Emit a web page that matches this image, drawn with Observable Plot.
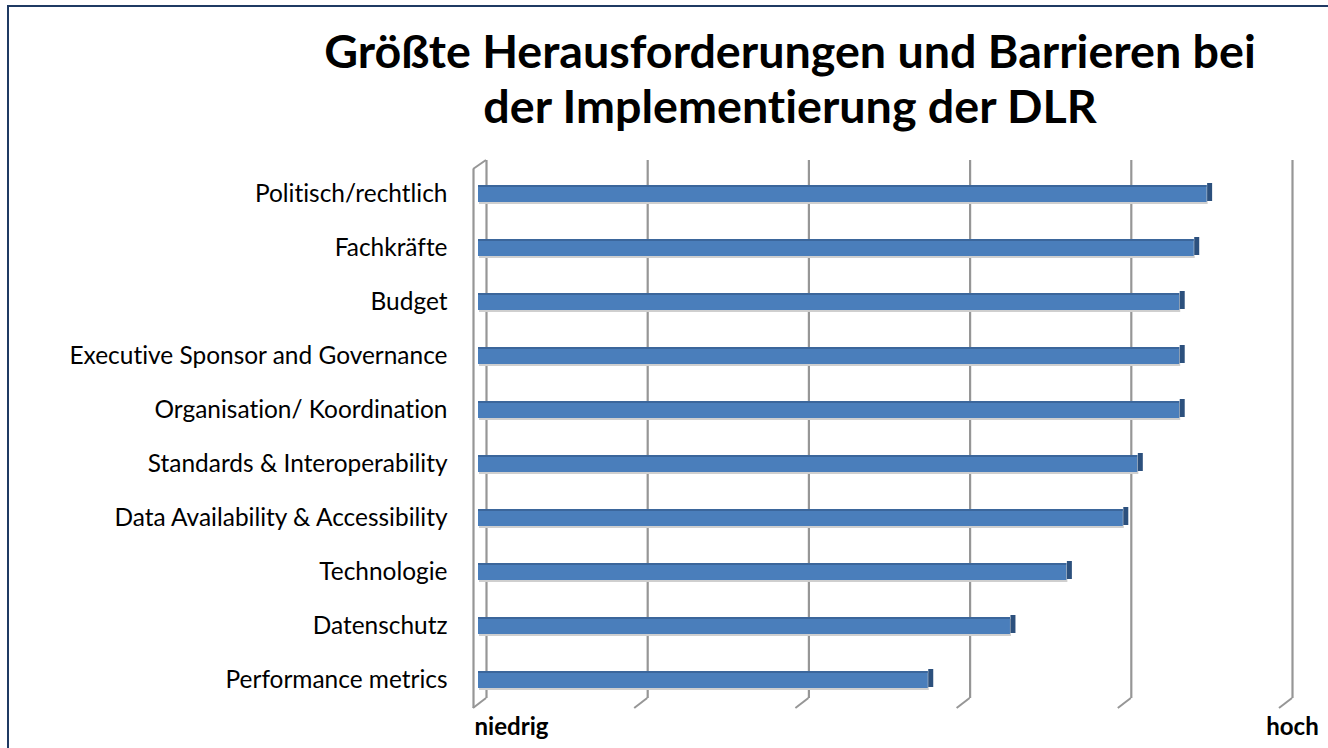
<!DOCTYPE html>
<html>
<head>
<meta charset="utf-8">
<script src="https://cdn.jsdelivr.net/npm/d3@7"></script>
<script src="https://cdn.jsdelivr.net/npm/@observablehq/plot@0.6"></script>
<style>
  html, body { margin: 0; padding: 0; background: #fff; }
  #wrap { position: relative; width: 1328px; height: 748px; overflow: hidden; background: #fff;
          font-variant-ligatures: none; font-feature-settings: "liga" 0, "clig" 0; }
  #wrap svg text { font-variant-ligatures: none; font-feature-settings: "liga" 0, "clig" 0; }
  #frame { position: absolute; left: 7px; top: 5px; width: 1340px; height: 760px;
           border-left: 2.5px solid #1F3A63; border-top: 2.5px solid #1F3A63; box-sizing: border-box; }
  #title { position: absolute; left: 0; top: 0; width: 1328px; height: 150px; box-sizing: border-box;
           padding-left: 252px; text-align: center; font-family: Lato, "Open Sans", sans-serif;
           font-weight: 700; color: #000; }
  #title div { line-height: 55px; white-space: nowrap; }
  #chart { position: absolute; left: 0; top: 150px; }
</style>
</head>
<body>
<div id="wrap">
  <div id="frame"></div>
  <div id="title"></div>
  <div id="chart"></div>
</div>
<script>
const titleLines = ["Größte Herausforderungen und Barrieren bei", "der Implementierung der DLR"];
const categories = [
  "Politisch/rechtlich",
  "Fachkräfte",
  "Budget",
  "Executive Sponsor and Governance",
  "Organisation/ Koordination",
  "Standards & Interoperability",
  "Data Availability & Accessibility",
  "Technologie",
  "Datenschutz",
  "Performance metrics"
];
const values = [4.52, 4.44, 4.35, 4.35, 4.35, 4.09, 4.00, 3.65, 3.30, 2.79];
const gridTicks = [0, 1, 2, 3, 4, 5];
const endTicks = [0, 5];
const endLabels = ["niedrig", "hoch"];

const data = categories.map((name, i) => ({name, value: values[i]}));
const ends = endTicks.map((v, i) => ({v, label: endLabels[i]}));

const ctx = document.createElement("canvas").getContext("2d");
function fit(text, weight, family, target) {
  ctx.font = `${weight} 100px ${family}`;
  return 100 * target / ctx.measureText(text).width;
}
const FAM = "Lato";
const titleSize = fit(titleLines[0], 700, FAM, 932);
const labelSize = fit("Executive Sponsor and Governance", 400, FAM, 379);
const endSize = fit("niedrig", 700, FAM, 74);

const titleEl = document.getElementById("title");
titleEl.style.fontSize = titleSize + "px";
titleEl.style.paddingTop = "23px";
for (const t of titleLines) { const d = document.createElement("div"); d.textContent = t; titleEl.appendChild(d); }

const GRID = "#969696";

// slanted floor segments and wall top, drawn with the plot's own x scale
function slants(index, scales, values, dim) {
  const g = d3.create("svg:g").attr("fill", "none").attr("stroke", GRID).attr("stroke-width", 2);
  const yb = dim.height - dim.marginBottom;
  const yt = dim.marginTop;
  for (const t of gridTicks) {
    const x = scales.x(t);
    g.append("path").attr("d", `M${x + 8},${yb - 11}L${x - 5},${yb - 1}`);
  }
  const x0 = scales.x(gridTicks[0]);
  g.append("path").attr("d", `M${x0 - 5},${yt + 4}L${x0 + 8},${yt - 5}`);
  return g.node();
}

const plot = Plot.plot({
  width: 1328,
  height: 598,
  marginLeft: 478,
  marginRight: 44,
  marginTop: 15,
  marginBottom: 39,
  style: {fontFamily: FAM, fontSize: labelSize + "px", color: "#000", overflow: "visible", background: "transparent"},
  x: {domain: [0, 5], axis: null},
  y: {domain: categories, padding: 0, axis: null},
  marks: [
    // back gridlines
    Plot.ruleX(gridTicks, {x: d => d, dx: 8, stroke: GRID, strokeWidth: 2.2, insetTop: -5, insetBottom: 11}),
    // front wall edge
    Plot.ruleX([gridTicks[0]], {x: d => d, dx: -5, stroke: GRID, strokeWidth: 2.2, insetTop: 4, insetBottom: 1}),
    slants,
    // bar shadow
    Plot.barX(data, {x: "value", y: "name", fill: "#cfcfcf", insetTop: 20, insetBottom: 17, dx: 1}),
    // bar front face
    Plot.barX(data, {x: "value", y: "name", fill: "#4A7EBB", insetTop: 18, insetBottom: 19}),
    // bar top edge
    Plot.barX(data, {x: "value", y: "name", fill: "#3B669B", insetTop: 18, insetBottom: 34}),
    // bar end face
    Plot.tickX(data, {x: "value", y: "name", dx: 2.5, stroke: "#2C507D", strokeWidth: 5, insetTop: 16, insetBottom: 20}),
    Plot.axisY({tickSize: 0, tickPadding: 31, fontSize: labelSize, fill: "#000", label: null}),
    Plot.text(ends.filter(d => d.v === 0), {x: "v", text: "label", frameAnchor: "bottom", dy: 25, dx: -4, textAnchor: "start", fontWeight: 700, fontSize: endSize, fill: "#000"}),
    Plot.text(ends.filter(d => d.v === 5), {x: "v", text: "label", frameAnchor: "bottom", dy: 25, dx: 8, textAnchor: "middle", fontWeight: 700, fontSize: endSize, fill: "#000"})
  ]
});
document.getElementById("chart").appendChild(plot);
</script>
</body>
</html>
